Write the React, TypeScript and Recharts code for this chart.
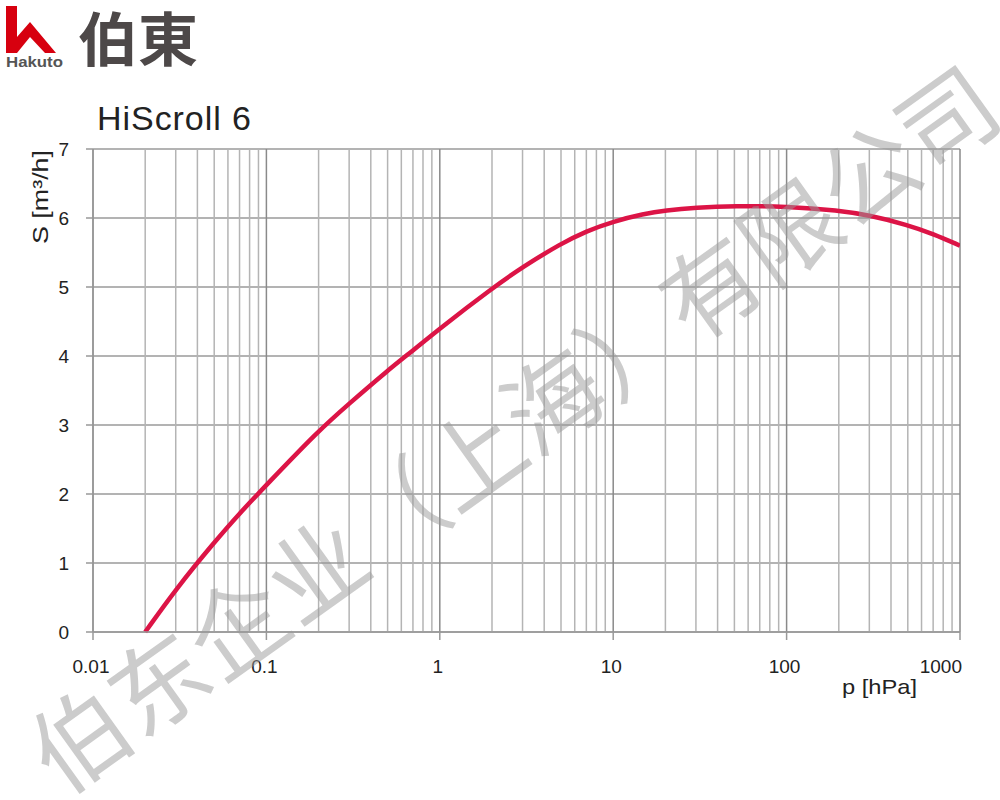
import {
  CartesianGrid,
  Line,
  LineChart,
  ReferenceLine,
  XAxis,
  YAxis,
} from "recharts";

// pressure p [hPa] and pumping speed S [m3/h]
const pressure = [
  0.02, 0.03, 0.05, 0.07, 0.1, 0.2, 0.3, 0.5, 0.7, 1, 2, 3, 5, 7, 10, 15, 20,
  30, 50, 100, 200, 300, 500, 700, 1000,
];
const speed = [
  0, 0.62, 1.3, 1.72, 2.13, 2.92, 3.31, 3.79, 4.08, 4.4, 4.98, 5.29, 5.63, 5.81,
  5.95, 6.06, 6.11, 6.15, 6.175, 6.17, 6.11, 6.04, 5.9, 5.77, 5.6,
];

const xTicks = [0.01, 0.1, 1, 10, 100, 1000];
const yTicks = [0, 1, 2, 3, 4, 5, 6, 7];
const minorSteps = [2, 3, 4, 5, 6, 7, 8, 9];

const title = "HiScroll 6";
const watermark = "伯东企业（上海）有限公司";

const FONT = "'Liberation Sans', Arial, sans-serif";

// minor log gridlines 2..9 in each decade
const minorX = xTicks.slice(0, -1).flatMap((d) => minorSteps.map((m) => +(d * m).toPrecision(3)));

function XTick(props: any) {
  const { x, y, payload } = props;
  const last = payload.value === 1000;
  return (
    <text
      x={last ? x + 2 : x - 2}
      y={y}
      dy="0.71em"
      textAnchor={last ? "end" : "middle"}
      fontFamily={FONT}
      fontSize={19}
      fill="#222"
    >
      {String(payload.value)}
    </text>
  );
}

export default function App() {
  const data = pressure.map((p, i) => ({ p, s: speed[i] }));

  return (
    <div style={{ position: "absolute", left: 0, top: 0, width: 1000, height: 800, background: "#fff" }}>
      {/* header: logo + title, axis names */}
      <svg width={1000} height={800} style={{ position: "absolute", left: 0, top: 0 }}>
        <polygon
          points="6,6 17,6 17,37 30,22 56,53 45,53 30,37 17,53 6,53"
          fill="#d7000f"
        />
        <text
          x={6}
          y={67}
          fontFamily={FONT}
          fontSize={14}
          fontWeight={700}
          fill="#555"
          textLength={57}
          lengthAdjust="spacingAndGlyphs"
        >
          Hakuto
        </text>
        <text
          x={78}
          y={61}
          fontFamily="'Noto Sans CJK JP', sans-serif"
          fontSize={58}
          fontWeight={700}
          fill="#4d4848"
          textLength={120}
          lengthAdjust="spacingAndGlyphs"
        >
          伯東
        </text>
        <text x={97} y={130} fontFamily={FONT} fontSize={34} fill="#222" textLength={154}>
          {title}
        </text>
        <text
          x={40}
          y={197}
          transform="rotate(-90 40 197)"
          textAnchor="middle"
          dominantBaseline="central"
          fontFamily={FONT}
          fontSize={22}
          fill="#222"
          textLength={94}
          lengthAdjust="spacingAndGlyphs"
        >
          S [m³/h]
        </text>
        <text
          x={842}
          y={694}
          fontFamily={FONT}
          fontSize={21}
          fill="#222"
          textLength={75}
          lengthAdjust="spacingAndGlyphs"
        >
          p [hPa]
        </text>
      </svg>

      <div style={{ position: "absolute", left: 0, top: 0 }}>
        <LineChart
          width={1000}
          height={800}
          data={data}
          margin={{ top: 149, right: 40, bottom: 138, left: 33 }}
        >
          <CartesianGrid horizontal vertical={false} stroke="#9a9a9a" strokeWidth={1.5} />
          {minorX.map((v) => (
            <ReferenceLine key={v} x={v} stroke="#b4b4b4" strokeWidth={1.5} ifOverflow="hidden" />
          ))}
          {xTicks.map((v) => (
            <ReferenceLine key={"M" + v} x={v} stroke="#8a8a8a" strokeWidth={1.5} />
          ))}
          <XAxis
            dataKey="p"
            type="number"
            scale="log"
            domain={[0.01, 1000]}
            ticks={xTicks}
            allowDataOverflow
            height={30}
            tickSize={8}
            tickMargin={20}
            stroke="#999"
            strokeWidth={1.5}
            tick={<XTick />}
          />
          <YAxis
            type="number"
            domain={[0, 7]}
            ticks={yTicks}
            width={60}
            tickSize={7}
            tickMargin={17}
            stroke="#999"
            strokeWidth={1.5}
            tick={{ fontFamily: FONT, fontSize: 19, fill: "#222" }}
          />
          <Line
            type="basis"
            dataKey="s"
            stroke="#dc1446"
            strokeWidth={4.5}
            dot={false}
            isAnimationActive={false}
          />
        </LineChart>
      </div>

      {/* diagonal watermark */}
      <svg width={1000} height={800} style={{ position: "absolute", left: 0, top: 0, pointerEvents: "none" }}>
        <text
          x={510}
          y={424}
          transform="rotate(-35.6 510 424)"
          textAnchor="middle"
          dominantBaseline="central"
          fontFamily="'Noto Sans CJK SC', sans-serif"
          fontSize={97}
          fill="#999"
          fillOpacity={0.5}
        >
          {watermark}
        </text>
      </svg>
    </div>
  );
}
